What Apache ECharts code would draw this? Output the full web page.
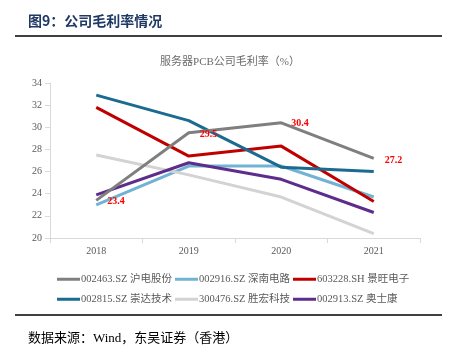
<!DOCTYPE html>
<html>
<head>
<meta charset="utf-8">
<script src="https://cdn.jsdelivr.net/npm/echarts@6/dist/echarts.min.js"></script>
<style>
  html, body { margin: 0; padding: 0; background: #fff; }
  #main { width: 460px; height: 350px; }
</style>
</head>
<body>
<div id="main"></div>
<script>
var years = ['2018', '2019', '2020', '2021']
var names = ['002463.SZ 沪电股份', '002916.SZ 深南电路', '603228.SH 景旺电子',
  '002815.SZ 崇达技术', '300476.SZ 胜宏科技', '002913.SZ 奥士康']
var hudian = [23.4, 29.5, 30.4, 27.2]
var shennan = [23.0, 26.5, 26.5, 23.7]
var jingwang = [31.8, 27.4, 28.3, 23.3]
var chongda = [32.9, 30.6, 26.4, 26.0]
var shenghong = [27.5, 25.7, 23.7, 20.4]
var aoshikang = [23.9, 26.8, 25.3, 22.3]

var colors = ['#7f7f7f', '#72b3d3', '#c00000', '#1b6a8f', '#d3d3d3', '#5e2d8c']
var serif = '"Liberation Serif", "Noto Sans CJK SC", serif'

// 只给沪电股份标数值
var labelOffsets = [[6, 1], [6, 2], [5, 1], [6, 2]]
var hudianData = hudian.map(function(v, i) {
  return {
    value: v,
    label: { show: true, position: 'right', offset: labelOffsets[i] }
  }
})

var allData = [hudianData, shennan, jingwang, chongda, shenghong, aoshikang]

var legendText = { color: '#595959', fontSize: 10.5, fontFamily: serif, padding: [0, 0, 0, -4] }

var myChart = echarts.init(document.getElementById('main'))
var option = {
  animation: false,
  color: colors,
  title: [
    {
      text: '图9：公司毛利率情况',
      left: 23,
      top: 9,
      textStyle: { color: '#1f3864', fontSize: 14, fontWeight: 'bold', fontFamily: '"Noto Sans CJK SC"' }
    },
    {
      text: '服务器PCB公司毛利率（%）',
      left: 'center',
      top: 52,
      textStyle: { color: '#6b6b6b', fontSize: 11, fontWeight: 'normal', fontFamily: serif }
    },
    {
      text: '数据来源：Wind，东吴证券（香港）',
      left: 23,
      top: 327,
      textStyle: { color: '#000', fontSize: 13, fontWeight: 'normal', fontFamily: serif }
    }
  ],
  graphic: [
    { type: 'line', shape: { x1: 15, y1: 36, x2: 442, y2: 36 }, style: { stroke: '#000', lineWidth: 1.5 } },
    { type: 'line', shape: { x1: 15, y1: 315, x2: 442, y2: 315 }, style: { stroke: '#000', lineWidth: 1.5 } }
  ],
  legend: [
    {
      data: names.slice(0, 3),
      left: 52,
      top: 269,
      icon: 'rect',
      itemWidth: 23,
      itemHeight: 3,
      itemGap: 3,
      textStyle: legendText
    },
    {
      data: names.slice(3),
      left: 52,
      top: 289,
      icon: 'rect',
      itemWidth: 23,
      itemHeight: 3,
      itemGap: 3,
      textStyle: legendText
    }
  ],
  grid: { left: 50, right: 40, top: 83, bottom: 112 },
  xAxis: {
    type: 'category',
    data: years,
    boundaryGap: true,
    axisLine: { lineStyle: { color: '#d9d9d9' } },
    axisTick: { show: true, lineStyle: { color: '#d9d9d9' } },
    axisLabel: { color: '#595959', fontSize: 10, fontFamily: serif, margin: 8 }
  },
  yAxis: {
    type: 'value',
    min: 20,
    max: 34,
    interval: 2,
    axisLine: { show: true, lineStyle: { color: '#d9d9d9' } },
    axisTick: { show: true, lineStyle: { color: '#d9d9d9' } },
    axisLabel: { color: '#595959', fontSize: 10, fontFamily: serif, margin: 8 },
    splitLine: { show: false }
  },
  series: names.map(function(n, i) {
    return {
      name: n,
      type: 'line',
      data: allData[i],
      showSymbol: i === 0,
      symbol: 'circle',
      symbolSize: 0.1,
      lineStyle: { width: 3 },
      label: {
        color: '#ff0000',
        fontWeight: 'bold',
        fontSize: 10,
        fontFamily: serif
      },
      z: i === 0 ? 3 : 2
    }
  })
}
option && myChart.setOption(option)
</script>
</body>
</html>
